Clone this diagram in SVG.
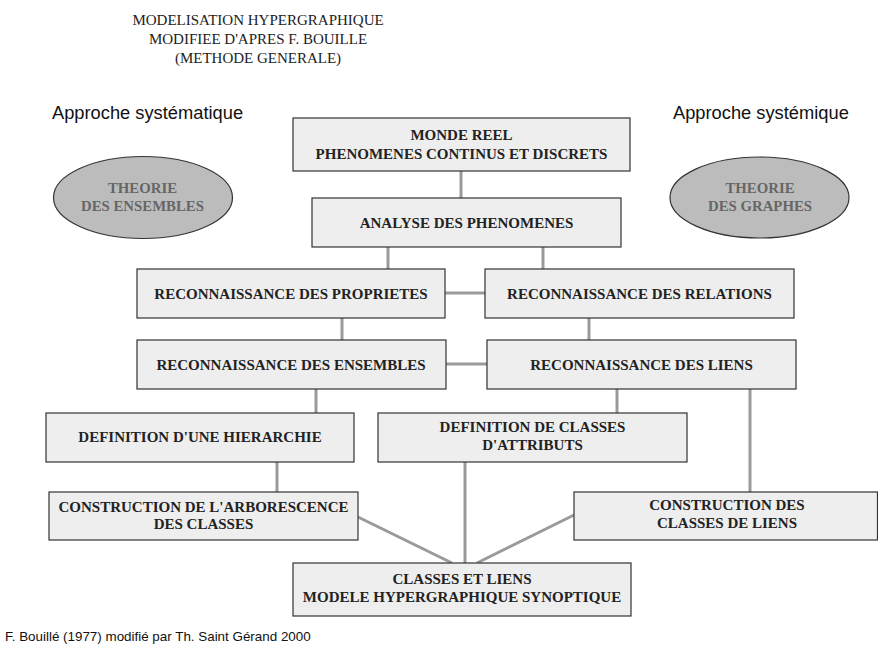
<svg xmlns="http://www.w3.org/2000/svg" width="878" height="646" viewBox="0 0 878 646">
<style>
.box{fill:#eeeeee;stroke:#333;stroke-width:1.2}
.ell{fill:#bcbcbc;stroke:#333;stroke-width:1.2}
.bt{font-family:"Liberation Serif",serif;font-weight:bold;font-size:15px;fill:#222;text-anchor:middle}
.et{font-family:"Liberation Serif",serif;font-weight:bold;font-size:14.8px;fill:#666;text-anchor:middle}
.title{font-family:"Liberation Serif",serif;font-size:15px;fill:#222;text-anchor:middle}
.ap{font-family:"Liberation Sans",sans-serif;font-size:18.3px;fill:#111}
.foot{font-family:"Liberation Sans",sans-serif;font-size:13.4px;fill:#111}
.c{stroke:#9a9a9a;stroke-width:3;fill:none}
</style>
<rect width="878" height="646" fill="#fff"/>
<g id="title">
<text class="title" x="258" y="25">MODELISATION HYPERGRAPHIQUE</text>
<text class="title" x="258" y="44">MODIFIEE D'APRES F. BOUILLE</text>
<text class="title" x="258" y="63">(METHODE GENERALE)</text>
</g>
<text class="ap" x="52" y="118.5">Approche systématique</text>
<text class="ap" x="673" y="118.5">Approche systémique</text>
<g id="connectors">
<line class="c" x1="461" y1="171" x2="461" y2="198"/>
<line class="c" x1="388" y1="247" x2="388" y2="269"/>
<line class="c" x1="543" y1="247" x2="543" y2="269"/>
<line class="c" x1="445" y1="293" x2="485" y2="293"/>
<line class="c" x1="342" y1="318" x2="342" y2="340"/>
<line class="c" x1="589" y1="318" x2="589" y2="340"/>
<line class="c" x1="446" y1="364" x2="487" y2="364"/>
<line class="c" x1="316" y1="389" x2="316" y2="413"/>
<line class="c" x1="617" y1="389" x2="617" y2="413"/>
<line class="c" x1="750" y1="389" x2="750" y2="492"/>
<line class="c" x1="277" y1="462" x2="277" y2="492"/>
<line class="c" x1="465" y1="462" x2="465" y2="563"/>
<line class="c" x1="358" y1="517" x2="452" y2="563"/>
<line class="c" x1="574" y1="515" x2="477" y2="563"/>
</g>
<g id="ell-ensembles">
<ellipse class="ell" cx="143" cy="197.5" rx="89.5" ry="41"/>
<text class="et" x="142.5" y="193">THEORIE</text>
<text class="et" x="142.5" y="211">DES ENSEMBLES</text>
</g>
<g id="ell-graphes">
<ellipse class="ell" cx="759.5" cy="197.5" rx="89.5" ry="40.5"/>
<text class="et" x="760" y="193">THEORIE</text>
<text class="et" x="760" y="211">DES GRAPHES</text>
</g>
<g id="monde">
<rect class="box" x="293" y="118" width="337" height="53"/>
<text class="bt" x="461.5" y="140">MONDE REEL</text>
<text class="bt" x="461.5" y="159">PHENOMENES CONTINUS ET DISCRETS</text>
</g>
<g id="analyse">
<rect class="box" x="312" y="198" width="309" height="49"/>
<text class="bt" x="466.5" y="227.5">ANALYSE DES PHENOMENES</text>
</g>
<g id="proprietes">
<rect class="box" x="137" y="269" width="308" height="49"/>
<text class="bt" x="291" y="298.5">RECONNAISSANCE DES PROPRIETES</text>
</g>
<g id="relations">
<rect class="box" x="485" y="269" width="309" height="49"/>
<text class="bt" x="639.5" y="298.5">RECONNAISSANCE DES RELATIONS</text>
</g>
<g id="ensembles">
<rect class="box" x="137" y="340" width="309" height="49"/>
<text class="bt" x="291" y="369.5">RECONNAISSANCE DES ENSEMBLES</text>
</g>
<g id="liens">
<rect class="box" x="487" y="340" width="309" height="49"/>
<text class="bt" x="641.5" y="369.5">RECONNAISSANCE DES LIENS</text>
</g>
<g id="hierarchie">
<rect class="box" x="46" y="413" width="308" height="49"/>
<text class="bt" x="200" y="442">DEFINITION D'UNE HIERARCHIE</text>
</g>
<g id="attributs">
<rect class="box" x="378" y="413" width="309" height="49"/>
<text class="bt" x="532.5" y="432">DEFINITION DE CLASSES</text>
<text class="bt" x="532.5" y="450">D'ATTRIBUTS</text>
</g>
<g id="arborescence">
<rect class="box" x="49" y="492" width="309" height="48"/>
<text class="bt" x="203.5" y="512">CONSTRUCTION DE L'ARBORESCENCE</text>
<text class="bt" x="203.5" y="529">DES CLASSES</text>
</g>
<g id="classes-liens">
<rect class="box" x="574" y="492" width="303.5" height="48"/>
<text class="bt" x="727" y="510">CONSTRUCTION DES</text>
<text class="bt" x="727" y="528">CLASSES DE LIENS</text>
</g>
<g id="synoptique">
<rect class="box" x="293" y="563" width="338" height="53"/>
<text class="bt" x="462" y="584">CLASSES ET LIENS</text>
<text class="bt" x="462" y="602">MODELE HYPERGRAPHIQUE SYNOPTIQUE</text>
</g>
<text class="foot" x="5" y="641">F. Bouillé (1977) modifié par Th. Saint Gérand 2000</text>
</svg>
